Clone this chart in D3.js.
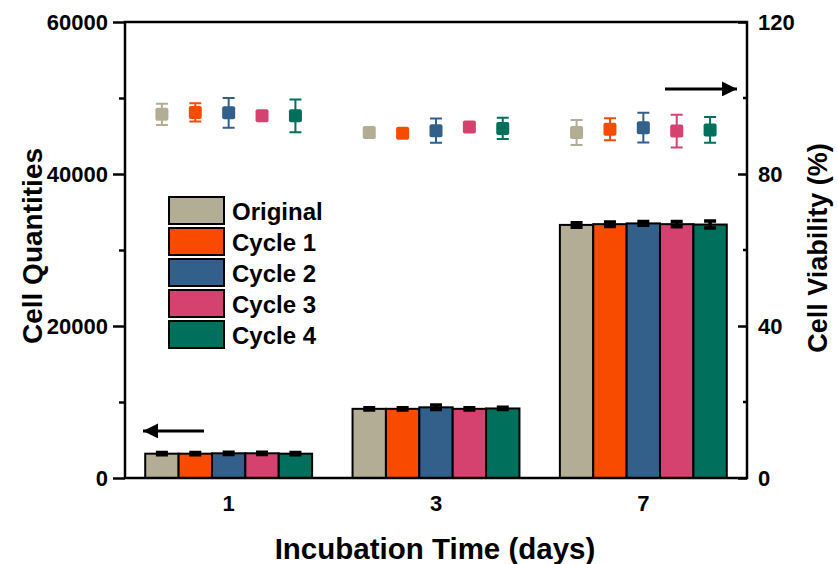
<!DOCTYPE html>
<html>
<head>
<meta charset="utf-8">
<script src="https://cdn.jsdelivr.net/npm/d3@7"></script>
<style>
  body { margin: 0; background: #fff; }
  svg text { font-family: Arial, "Liberation Sans", sans-serif; font-weight: bold; fill: #000; }
</style>
</head>
<body>
<div id="chart"></div>
<script>
// data
var days = ["1", "3", "7"];
var series = ["Original", "Cycle 1", "Cycle 2", "Cycle 3", "Cycle 4"];
var colors = ["#b4ad95", "#f94b00", "#32608b", "#d6426f", "#006f5b"];

// cell quantities (bars), one array per series, values for days 1,3,7
var qtyOriginal = [3200, 9100, 33300];
var qtyCycle1   = [3200, 9100, 33400];
var qtyCycle2   = [3250, 9300, 33500];
var qtyCycle3   = [3250, 9100, 33400];
var qtyCycle4   = [3200, 9150, 33350];
var qtyErr = [[150, 150, 300], [150, 150, 300], [150, 300, 250], [150, 150, 350], [150, 150, 450]];

// cell viability (%) points
var viaOriginal = [95.7, 90.9, 90.9];
var viaCycle1   = [96.2, 90.7, 91.8];
var viaCycle2   = [96.1, 91.4, 92.2];
var viaCycle3   = [95.3, 92.4, 91.3];
var viaCycle4   = [95.3, 92.0, 91.6];
var viaErr = [[2.8, 1.2, 3.3], [2.4, 0.5, 2.9], [3.9, 3.2, 3.9], [1.0, 0.5, 4.3], [4.3, 2.8, 3.4]];

var qty = [qtyOriginal, qtyCycle1, qtyCycle2, qtyCycle3, qtyCycle4];
var via = [viaOriginal, viaCycle1, viaCycle2, viaCycle3, viaCycle4];

var margin = {top: 22, right: 91, bottom: 86, left: 125},
    width = 838 - margin.left - margin.right,
    height = 564 - margin.top - margin.bottom;

var x0 = d3.scaleBand().domain(days).range([0, width]).paddingInner(0.195).paddingOuter(0.0975);
var x1 = d3.scaleBand().domain(series).range([0, x0.bandwidth()]);
var yL = d3.scaleLinear().domain([0, 60000]).range([height, 0]);
var yR = d3.scaleLinear().domain([0, 120]).range([height, 0]);

var svg = d3.select("#chart")
    .append("svg")
        .attr("width", 838)
        .attr("height", 564)
    .append("g")
        .attr("transform", "translate(" + margin.left + "," + margin.top + ")");

// flatten into rows
var rows = [];
days.forEach(function(d, i) {
    series.forEach(function(s, j) {
        rows.push({day: d, s: s, j: j, q: qty[j][i], qe: qtyErr[j][i], v: via[j][i], ve: viaErr[j][i]});
    });
});

// bars
svg.selectAll(".bar")
    .data(rows)
    .enter().append("rect")
        .attr("x", function(d) { return x0(d.day) + x1(d.s); })
        .attr("y", function(d) { return yL(d.q); })
        .attr("width", x1.bandwidth())
        .attr("height", function(d) { return height - yL(d.q); })
        .style("fill", function(d) { return colors[d.j]; })
        .style("stroke", "#000")
        .style("stroke-width", 2);

// bar error bars
var cx = function(d) { return x0(d.day) + x1(d.s) + x1.bandwidth() / 2; };
svg.selectAll(".qerr")
    .data(rows)
    .enter().append("path")
        .attr("d", function(d) {
            var c = cx(d), t = yL(d.q + d.qe), b = yL(d.q - d.qe);
            return "M" + (c - 6) + "," + t + "H" + (c + 6) + "M" + c + "," + t + "V" + b + "M" + (c - 6) + "," + b + "H" + (c + 6);
        })
        .style("stroke", "#000")
        .style("stroke-width", 3.5)
        .style("fill", "none");

// viability error bars
svg.selectAll(".verr")
    .data(rows)
    .enter().append("path")
        .attr("d", function(d) {
            var c = cx(d), t = yR(d.v + d.ve), b = yR(d.v - d.ve);
            return "M" + (c - 6) + "," + t + "H" + (c + 6) + "M" + c + "," + t + "V" + b + "M" + (c - 6) + "," + b + "H" + (c + 6);
        })
        .style("stroke", function(d) { return colors[d.j]; })
        .style("stroke-width", 2)
        .style("fill", "none");

// viability markers
svg.selectAll(".pt")
    .data(rows)
    .enter().append("rect")
        .attr("x", function(d) { return cx(d) - 6.5; })
        .attr("y", function(d) { return yR(d.v) - 6.5; })
        .attr("width", 13)
        .attr("height", 13)
        .attr("rx", 2)
        .style("fill", function(d) { return colors[d.j]; });

// frame
svg.append("rect")
    .attr("width", width)
    .attr("height", height)
    .style("fill", "none")
    .style("stroke", "#000")
    .style("stroke-width", 2.5);

// left axis
var yAxisLeft = d3.axisLeft(yL).tickValues([0, 20000, 40000, 60000]).tickFormat(d3.format("d")).tickSize(12).tickPadding(5);
var gl = svg.append("g").call(yAxisLeft);
gl.select(".domain").remove();
gl.selectAll("line").style("stroke-width", 2.5);
gl.selectAll("text").style("font-size", "22px");
svg.append("g").call(d3.axisLeft(yL).tickValues([10000, 30000, 50000]).tickSize(6).tickFormat(""))
    .call(function(g) { g.select(".domain").remove(); g.selectAll("line").style("stroke-width", 2.5); });

// right axis (ticks inside)
var gr = svg.append("g")
    .attr("transform", "translate(" + width + ",0)")
    .call(d3.axisRight(yR).tickValues([0, 40, 80, 120]).tickSize(0).tickPadding(11));
gr.select(".domain").remove();
gr.selectAll("text").style("font-size", "22px");
gr.selectAll(".tick").append("line").attr("x1", -9).attr("x2", 0).style("stroke", "#000").style("stroke-width", 2.5);
svg.append("g")
    .attr("transform", "translate(" + width + ",0)")
    .selectAll("line")
    .data([20, 60, 100])
    .enter().append("line")
        .attr("x1", -4).attr("x2", 0)
        .attr("y1", function(d) { return yR(d); })
        .attr("y2", function(d) { return yR(d); })
        .style("stroke", "#000")
        .style("stroke-width", 2.5);

// bottom axis
var gb = svg.append("g")
    .attr("transform", "translate(0," + height + ")")
    .call(d3.axisBottom(x0).tickSize(0).tickPadding(17));
gb.select(".domain").remove();
gb.selectAll("text").style("font-size", "22px");

// axis titles
svg.append("text")
    .attr("transform", "rotate(-90)")
    .attr("x", -height / 2 + 4)
    .attr("y", -83)
    .attr("text-anchor", "middle")
    .style("font-size", "28px")
    .text("Cell Quantities");

svg.append("text")
    .attr("transform", "rotate(-90)")
    .attr("x", -height / 2 + 2)
    .attr("y", width + 80)
    .attr("text-anchor", "middle")
    .style("font-size", "27px")
    .text("Cell Viability (%)");

svg.append("text")
    .attr("x", width / 2 - 1)
    .attr("y", height + 81)
    .attr("text-anchor", "middle")
    .style("font-size", "29.5px")
    .text("Incubation Time (days)");

// legend
var legend = svg.append("g").attr("transform", "translate(44,175)");
var li = legend.selectAll("g")
    .data(series)
    .enter().append("g")
        .attr("transform", function(d, i) { return "translate(0," + i * 31 + ")"; });
li.append("rect")
    .attr("width", 55)
    .attr("height", 27)
    .style("fill", function(d, i) { return colors[i]; })
    .style("stroke", "#000")
    .style("stroke-width", 2);
li.append("text")
    .attr("x", 63)
    .attr("y", 14)
    .attr("dy", "0.36em")
    .style("font-size", "24px")
    .text(function(d) { return d; });

// arrows
svg.append("defs").append("marker")
    .attr("id", "head")
    .attr("viewBox", "0 0 10 10")
    .attr("refX", 10).attr("refY", 5)
    .attr("markerWidth", 7).attr("markerHeight", 5)
    .attr("markerUnits", "strokeWidth")
    .attr("orient", "auto")
    .append("path").attr("d", "M0,0L10,5L0,10Z").style("fill", "#000");

svg.append("line")
    .attr("x1", 79).attr("x2", 18)
    .attr("y1", yL(6200)).attr("y2", yL(6200))
    .style("stroke", "#000").style("stroke-width", 3)
    .attr("marker-end", "url(#head)");

svg.append("line")
    .attr("x1", 540).attr("x2", 612)
    .attr("y1", yR(102.4)).attr("y2", yR(102.4))
    .style("stroke", "#000").style("stroke-width", 3)
    .attr("marker-end", "url(#head)");
</script>
</body>
</html>
